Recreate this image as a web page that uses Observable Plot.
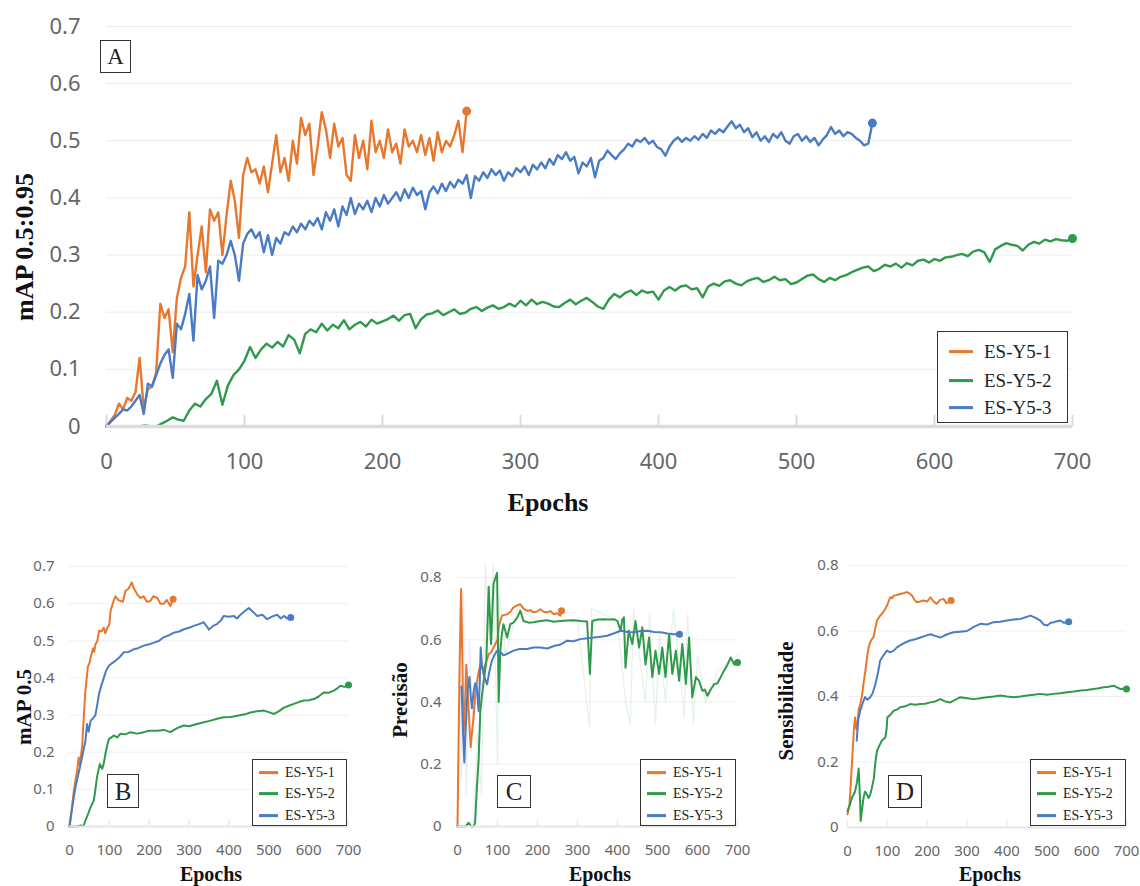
<!DOCTYPE html>
<html><head><meta charset="utf-8">
<script src="https://cdn.jsdelivr.net/npm/d3@7"></script>
<script src="https://cdn.jsdelivr.net/npm/@observablehq/plot@0.6"></script>
<style>
body{margin:0;background:#fff;}
#root{position:relative;width:1140px;height:886px;overflow:hidden;background:#fff;}
.chart{position:absolute;}
.chart svg{overflow:visible;}
.lab{position:absolute;font-family:"Liberation Serif","Times New Roman",serif;font-weight:bold;color:#111;white-space:nowrap;line-height:1;}
.ylab{transform:translate(-50%,-50%) rotate(-90deg);}
.xlab{transform:translate(-50%,-50%);}
.box{position:absolute;border:1.5px solid #333;background:#fff;box-sizing:border-box;font-family:"Liberation Serif","Times New Roman",serif;color:#222;}
.panel{display:flex;align-items:center;justify-content:center;line-height:1;}
.row{position:absolute;left:0;transform:translateY(-50%);white-space:nowrap;line-height:1;}
.sw{position:absolute;top:50%;transform:translateY(-50%);}
</style></head><body><div id="root"></div>
<script>
// ---------- shared ----------
const seriesNames = ["ES-Y5-1", "ES-Y5-2", "ES-Y5-3"];
const seriesColors = ["#E8772E", "#2F9A4B", "#4A7CC6"];
const epochTicks = [0, 100, 200, 300, 400, 500, 600, 700];
const yTicks07 = [0, 0.1, 0.2, 0.3, 0.4, 0.5, 0.6, 0.7];
const yTicks08 = [0, 0.2, 0.4, 0.6, 0.8];

// ---------- panel A: mAP 0.5:0.95 (values logged every N epochs) ----------
const stepA = [3, 4, 3];
const mapA_ES1 = [0.000,0.010,0.020,0.040,0.030,0.050,0.045,0.060,0.120,0.030,
  0.065,0.070,0.095,0.215,0.190,0.205,0.130,0.225,0.260,0.280,
  0.375,0.245,0.300,0.350,0.270,0.380,0.360,0.375,0.300,0.370,
  0.430,0.395,0.330,0.440,0.470,0.445,0.450,0.425,0.455,0.410,
  0.460,0.510,0.445,0.470,0.430,0.500,0.460,0.540,0.510,0.530,
  0.440,0.490,0.550,0.520,0.470,0.530,0.490,0.505,0.440,0.430,
  0.510,0.470,0.500,0.450,0.535,0.480,0.500,0.470,0.520,0.480,
  0.495,0.460,0.520,0.490,0.500,0.480,0.510,0.475,0.505,0.465,
  0.515,0.480,0.500,0.490,0.510,0.535,0.480,0.552];
const mapA_ES2 = [0,0,0,0,0,0,0,0.002,0.000,0.000,
  0.005,0.010,0.016,0.012,0.010,0.028,0.040,0.035,0.048,0.057,
  0.080,0.038,0.072,0.090,0.100,0.115,0.139,0.120,0.135,0.145,
  0.138,0.148,0.140,0.160,0.152,0.128,0.162,0.170,0.165,0.180,
  0.168,0.178,0.172,0.186,0.170,0.178,0.183,0.175,0.187,0.180,
  0.184,0.188,0.194,0.185,0.195,0.197,0.172,0.188,0.196,0.198,
  0.203,0.195,0.200,0.205,0.197,0.199,0.206,0.209,0.202,0.208,
  0.212,0.206,0.209,0.215,0.210,0.220,0.212,0.222,0.214,0.218,
  0.215,0.210,0.209,0.216,0.222,0.214,0.220,0.225,0.218,0.210,
  0.206,0.222,0.232,0.226,0.234,0.238,0.230,0.238,0.234,0.236,
  0.222,0.238,0.244,0.238,0.245,0.247,0.240,0.242,0.226,0.245,
  0.250,0.246,0.254,0.256,0.250,0.247,0.254,0.258,0.260,0.253,
  0.256,0.262,0.256,0.258,0.249,0.252,0.258,0.264,0.266,0.258,
  0.253,0.260,0.256,0.262,0.265,0.270,0.274,0.278,0.280,0.272,
  0.276,0.283,0.280,0.285,0.278,0.286,0.282,0.290,0.292,0.287,
  0.293,0.290,0.296,0.297,0.300,0.302,0.298,0.306,0.309,0.305,
  0.288,0.310,0.316,0.321,0.318,0.316,0.308,0.318,0.323,0.320,
  0.327,0.324,0.328,0.326,0.325,0.329];
const mapA_ES3 = [0.000,0.008,0.015,0.022,0.030,0.028,0.035,0.045,0.055,0.022,
  0.075,0.070,0.090,0.110,0.125,0.135,0.085,0.180,0.170,0.197,
  0.232,0.150,0.265,0.240,0.255,0.280,0.190,0.290,0.285,0.300,
  0.325,0.300,0.255,0.320,0.337,0.345,0.330,0.340,0.305,0.335,
  0.300,0.330,0.320,0.340,0.335,0.350,0.340,0.355,0.345,0.360,
  0.352,0.365,0.345,0.375,0.360,0.380,0.350,0.385,0.370,0.400,
  0.372,0.390,0.380,0.395,0.375,0.400,0.385,0.405,0.390,0.400,
  0.410,0.395,0.415,0.400,0.418,0.405,0.412,0.380,0.410,0.420,
  0.408,0.425,0.412,0.428,0.418,0.432,0.425,0.440,0.400,0.438,
  0.430,0.445,0.435,0.450,0.440,0.448,0.430,0.445,0.438,0.452,
  0.445,0.455,0.440,0.458,0.450,0.462,0.452,0.468,0.458,0.475,
  0.468,0.480,0.465,0.472,0.443,0.462,0.455,0.470,0.436,0.465,
  0.470,0.483,0.475,0.468,0.478,0.485,0.495,0.490,0.502,0.498,
  0.505,0.495,0.500,0.489,0.485,0.474,0.490,0.500,0.506,0.498,
  0.505,0.500,0.508,0.502,0.512,0.505,0.518,0.512,0.520,0.515,
  0.525,0.534,0.522,0.528,0.515,0.522,0.506,0.515,0.500,0.508,
  0.498,0.512,0.505,0.515,0.500,0.495,0.508,0.512,0.500,0.508,
  0.498,0.505,0.492,0.502,0.510,0.524,0.512,0.518,0.508,0.515,
  0.512,0.505,0.500,0.492,0.495,0.531];

// ---------- panel B: mAP 0.5  [epoch, value] ----------
const mapB_ES1 = [[0,0],[6,0.05],[11,0.097],[16,0.13],[19,0.15],[23,0.186],[26,0.165],[32,0.22],[36,0.30],[40,0.366],[46,0.43],[50,0.44],[53,0.455],[59,0.48],[62,0.47],[65,0.49],[70,0.50],[74,0.527],[80,0.525],[86,0.535],[90,0.52],[95,0.535],[100,0.545],[103,0.58],[110,0.605],[115,0.62],[122,0.61],[128,0.607],[134,0.605],[140,0.634],[148,0.64],[156,0.657],[162,0.64],[170,0.625],[178,0.615],[186,0.62],[194,0.605],[203,0.607],[210,0.62],[220,0.616],[228,0.60],[237,0.60],[244,0.61],[253,0.594],[260,0.612]];
const mapB_ES2 = [[0,0],[20,0],[28,0.003],[35,0],[40,0.016],[47,0.035],[53,0.052],[61,0.07],[65,0.10],[69,0.133],[76,0.168],[82,0.155],[86,0.17],[90,0.195],[95,0.22],[99,0.236],[105,0.24],[111,0.245],[120,0.24],[128,0.25],[140,0.248],[153,0.254],[170,0.25],[186,0.254],[200,0.258],[220,0.258],[237,0.26],[253,0.254],[270,0.265],[287,0.272],[300,0.27],[320,0.276],[335,0.28],[354,0.285],[370,0.29],[387,0.294],[405,0.295],[421,0.298],[440,0.302],[454,0.307],[470,0.31],[488,0.312],[500,0.308],[513,0.303],[525,0.31],[538,0.32],[550,0.325],[563,0.33],[575,0.335],[588,0.339],[600,0.34],[613,0.343],[625,0.35],[638,0.361],[650,0.36],[663,0.366],[672,0.372],[680,0.379],[690,0.376],[700,0.381]];
const mapB_ES3 = [[0,0],[7,0.052],[15,0.106],[22,0.14],[28,0.168],[34,0.20],[40,0.23],[44,0.276],[48,0.255],[53,0.285],[58,0.29],[65,0.30],[70,0.33],[74,0.357],[80,0.38],[86,0.40],[92,0.42],[99,0.433],[107,0.44],[115,0.446],[125,0.455],[136,0.469],[148,0.47],[161,0.477],[172,0.48],[186,0.487],[198,0.49],[212,0.495],[225,0.50],[237,0.51],[250,0.515],[262,0.522],[275,0.525],[287,0.531],[300,0.535],[312,0.54],[325,0.545],[337,0.55],[350,0.53],[360,0.54],[370,0.545],[380,0.555],[387,0.567],[400,0.565],[412,0.567],[420,0.56],[429,0.57],[440,0.58],[450,0.588],[460,0.578],[471,0.567],[484,0.57],[496,0.558],[508,0.565],[521,0.57],[530,0.56],[538,0.567],[546,0.56],[555,0.563]];

// ---------- panel C: Precisão ----------
const precC_ES1 = [[0,0],[5,0.5],[9,0.763],[12,0.55],[15,0.29],[19,0.40],[22,0.52],[25,0.45],[28,0.37],[31,0.30],[33,0.255],[36,0.30],[40,0.35],[44,0.42],[48,0.46],[52,0.49],[57,0.52],[61,0.51],[65,0.50],[72,0.53],[78,0.554],[84,0.56],[90,0.575],[96,0.59],[100,0.60],[103,0.64],[107,0.66],[111,0.677],[118,0.68],[124,0.682],[132,0.69],[140,0.704],[148,0.71],[157,0.714],[165,0.70],[174,0.693],[182,0.695],[190,0.688],[198,0.69],[207,0.698],[215,0.69],[224,0.688],[232,0.692],[241,0.682],[249,0.685],[257,0.677],[260,0.693]];
const precC_ES2 = [[0,0],[20,0],[28,0.012],[34,0],[40,0],[44,0.01],[48,0.115],[53,0.22],[57,0.37],[61,0.42],[65,0.46],[72,0.533],[78,0.77],[84,0.586],[90,0.78],[99,0.815],[103,0.40],[107,0.565],[111,0.62],[115,0.65],[124,0.607],[132,0.65],[140,0.655],[149,0.67],[157,0.693],[165,0.66],[178,0.655],[190,0.656],[207,0.66],[224,0.663],[240,0.658],[257,0.66],[274,0.662],[291,0.663],[308,0.66],[324,0.659],[331,0.49],[337,0.66],[350,0.665],[366,0.666],[380,0.665],[391,0.666],[400,0.66],[408,0.629],[412,0.665],[416,0.672],[420,0.51],[428,0.63],[437,0.586],[445,0.66],[454,0.575],[462,0.64],[470,0.52],[479,0.607],[487,0.48],[495,0.565],[504,0.49],[512,0.575],[520,0.48],[529,0.618],[537,0.49],[546,0.565],[554,0.468],[562,0.586],[571,0.458],[579,0.607],[587,0.415],[596,0.48],[604,0.468],[612,0.436],[618,0.44],[625,0.42],[633,0.44],[642,0.458],[650,0.46],[658,0.48],[666,0.50],[675,0.52],[683,0.543],[692,0.52],[700,0.527]];
const precC_ES3 = [[10,0.45],[14,0.30],[17,0.206],[21,0.33],[25,0.436],[30,0.48],[33,0.42],[36,0.38],[40,0.43],[44,0.46],[48,0.45],[53,0.37],[56,0.48],[58,0.575],[61,0.52],[65,0.49],[70,0.47],[74,0.457],[80,0.50],[86,0.533],[92,0.55],[99,0.565],[107,0.56],[115,0.55],[125,0.555],[140,0.565],[155,0.57],[174,0.57],[190,0.575],[207,0.575],[225,0.572],[241,0.58],[258,0.585],[274,0.597],[290,0.595],[307,0.602],[325,0.605],[341,0.607],[358,0.61],[374,0.613],[390,0.62],[408,0.629],[425,0.625],[441,0.624],[458,0.628],[475,0.629],[491,0.625],[508,0.624],[525,0.62],[541,0.618],[555,0.618]];
// faint raw (unsmoothed) precision traces
const precC_raw_ES2 = [[0,0],[40,0],[50,0.3],[60,0.1],[70,0.84],[80,0.6],[90,0.84],[100,0.2],[105,0.75],[120,0.55],[150,0.7],[200,0.66],[300,0.66],[330,0.32],[335,0.7],[400,0.66],[420,0.4],[432,0.33],[440,0.7],[470,0.4],[480,0.68],[495,0.33],[505,0.62],[520,0.4],[540,0.7],[567,0.35],[575,0.68],[590,0.33],[600,0.55],[620,0.4],[650,0.5],[700,0.55]];
const precC_raw_ES3 = [[5,0.7],[10,0.15],[15,0.75],[22,0.1],[30,0.6],[40,0.3],[50,0.5],[60,0.45],[80,0.55],[120,0.56]];

// ---------- panel D: Sensibilidade ----------
const recD_ES1 = [[0,0.04],[5,0.07],[9,0.15],[13,0.234],[16,0.30],[19,0.336],[22,0.30],[25,0.316],[28,0.36],[32,0.377],[36,0.40],[40,0.438],[45,0.48],[49,0.52],[53,0.55],[57,0.566],[61,0.575],[65,0.58],[70,0.61],[74,0.632],[78,0.64],[82,0.647],[88,0.655],[95,0.668],[100,0.68],[107,0.703],[112,0.70],[116,0.708],[124,0.71],[132,0.713],[140,0.715],[149,0.719],[155,0.715],[162,0.708],[168,0.695],[174,0.688],[182,0.69],[191,0.693],[200,0.69],[208,0.703],[216,0.69],[224,0.683],[232,0.695],[241,0.698],[248,0.685],[254,0.688],[260,0.693]];
const recD_ES2 = [[0,0.05],[6,0.07],[11,0.09],[15,0.10],[19,0.11],[24,0.14],[28,0.18],[31,0.10],[33,0.02],[37,0.06],[40,0.09],[44,0.11],[49,0.10],[53,0.09],[57,0.10],[61,0.12],[66,0.15],[70,0.20],[74,0.234],[80,0.25],[86,0.265],[90,0.27],[95,0.275],[98,0.30],[100,0.336],[108,0.345],[116,0.357],[124,0.36],[132,0.367],[145,0.37],[157,0.377],[170,0.375],[183,0.377],[195,0.378],[208,0.382],[220,0.385],[233,0.392],[245,0.385],[258,0.382],[270,0.39],[283,0.398],[300,0.395],[317,0.392],[333,0.395],[350,0.398],[367,0.40],[384,0.403],[400,0.40],[417,0.398],[434,0.40],[451,0.403],[467,0.405],[484,0.408],[500,0.405],[518,0.408],[534,0.41],[551,0.413],[568,0.415],[585,0.418],[600,0.42],[618,0.423],[630,0.425],[643,0.428],[655,0.43],[668,0.433],[676,0.428],[685,0.423],[692,0.424],[700,0.423]];
const recD_ES3 = [[23,0.265],[27,0.33],[32,0.357],[38,0.38],[44,0.398],[50,0.39],[57,0.398],[63,0.41],[70,0.438],[76,0.47],[82,0.51],[90,0.525],[99,0.54],[107,0.535],[116,0.54],[124,0.55],[132,0.556],[145,0.565],[157,0.571],[170,0.575],[183,0.58],[195,0.585],[208,0.59],[220,0.585],[233,0.58],[250,0.59],[266,0.596],[283,0.598],[300,0.60],[316,0.612],[333,0.622],[350,0.62],[367,0.627],[383,0.628],[400,0.632],[417,0.635],[434,0.637],[447,0.642],[459,0.647],[472,0.64],[484,0.632],[492,0.62],[501,0.617],[510,0.625],[518,0.627],[526,0.63],[534,0.632],[543,0.625],[551,0.627],[555,0.628]];

// ---------- helpers ----------
const root = document.getElementById("root");
function fromStep(values, step, name) {
  return values.map((v, i) => ({epoch: i * step, value: v, series: name}));
}
function fromPairs(pairs, name) {
  return pairs.map(([e, v]) => ({epoch: e, value: v, series: name}));
}
function lastOf(rows) {
  return seriesNames.map(s => { const r = rows.filter(d => d.series === s); return r[r.length - 1]; }).filter(Boolean);
}

function makeChart(o) {
  const marks = [
    Plot.gridY(o.yTicks, {stroke: o.grid, strokeOpacity: 1, strokeWidth: 1}),
    Plot.axisY(o.yTicks, {tickSize: 0, tickPadding: o.yPad, fontSize: o.font, fill: "#666", tickFormat: d => String(d), label: null}),
    Plot.axisX(epochTicks, {tickSize: 0, tickPadding: o.xPad, fontSize: o.font, fill: "#666", tickFormat: d => String(d), label: null}),
    Plot.ruleX(epochTicks, {x: d => d, y1: 0, y2: o.tickLen, stroke: o.tick, strokeWidth: o.tickW})
  ];
  if (o.ghost) marks.push(Plot.line(o.ghost, {x: "epoch", y: "value", z: "series", stroke: "series", strokeWidth: 1.2, strokeOpacity: 0.13}));
  marks.push(
    Plot.line(o.rows, {x: "epoch", y: "value", z: "series", stroke: "series", strokeWidth: o.lw, strokeLinejoin: "round", strokeLinecap: "round"}),
    Plot.ruleY([0], {stroke: o.base, strokeWidth: o.baseW}),
    Plot.dot(lastOf(o.rows), {x: "epoch", y: "value", fill: "series", r: o.r})
  );
  const svg = Plot.plot({
    width: o.w, height: o.h,
    marginLeft: o.ml, marginRight: o.mr, marginTop: o.mt, marginBottom: o.mb,
    x: {domain: [0, 700]},
    y: {domain: o.yDomain},
    color: {domain: seriesNames, range: seriesColors},
    style: {background: "transparent", fontFamily: '"Noto Sans", "Open Sans", sans-serif', overflow: "visible"},
    marks
  });
  const div = document.createElement("div");
  div.className = "chart";
  div.style.left = o.left + "px"; div.style.top = o.top + "px";
  div.appendChild(svg);
  root.appendChild(div);
}
function addLabel(text, x, y, size, rotate) {
  const d = document.createElement("div");
  d.className = "lab " + (rotate ? "ylab" : "xlab");
  d.style.left = x + "px"; d.style.top = y + "px"; d.style.fontSize = size + "px";
  d.textContent = text;
  root.appendChild(d);
}
function addPanelTag(text, x, y, w, h, size) {
  const d = document.createElement("div");
  d.className = "box panel";
  Object.assign(d.style, {left: x + "px", top: y + "px", width: w + "px", height: h + "px", fontSize: size + "px"});
  d.textContent = text;
  root.appendChild(d);
}
function addLegend(x, y, w, h, rows, swL, swW, swH, txtL, size) {
  const d = document.createElement("div");
  d.className = "box";
  Object.assign(d.style, {left: x + "px", top: y + "px", width: w + "px", height: h + "px"});
  seriesNames.forEach((s, i) => {
    const r = document.createElement("div");
    r.className = "row";
    r.style.top = rows[i] + "px"; r.style.width = "100%"; r.style.height = (size * 1.2) + "px";
    const sw = document.createElement("span");
    sw.className = "sw";
    Object.assign(sw.style, {left: swL + "px", width: swW + "px", height: swH + "px", background: seriesColors[i]});
    const t = document.createElement("span");
    Object.assign(t.style, {position: "absolute", left: txtL + "px", top: "50%", transform: "translateY(-50%)", fontSize: size + "px"});
    t.textContent = s;
    r.appendChild(sw); r.appendChild(t);
    d.appendChild(r);
  });
  root.appendChild(d);
}

// ---------- panel A ----------
const rowsA = [
  ...fromStep(mapA_ES1, stepA[0], seriesNames[0]),
  ...fromStep(mapA_ES2, stepA[1], seriesNames[1]),
  ...fromStep(mapA_ES3, stepA[2], seriesNames[2])
];
makeChart({rows: rowsA, yTicks: yTicks07, yDomain: [0, 0.7], w: 1140, h: 530, ml: 106, mr: 68, mt: 26, mb: 104,
  left: 0, top: 0, font: 22, yPad: 26, xPad: 27, grid: "#ebebeb", tick: "#dcdcdc", tickW: 2, tickLen: 0.02,
  base: "#dcdcdc", baseW: 3.5, lw: 2.4, r: 4.5});
addLabel("mAP 0.5:0.95", 25, 247, 26, true);
addLabel("Epochs", 548, 503, 26, false);
addPanelTag("A", 100, 40, 31, 33, 23);
addLegend(937, 331, 131, 92, [20, 49, 76], 11, 24, 3, 46, 19);

// ---------- panel B ----------
const rowsB = [...fromPairs(mapB_ES1, seriesNames[0]), ...fromPairs(mapB_ES2, seriesNames[1]), ...fromPairs(mapB_ES3, seriesNames[2])];
makeChart({rows: rowsB, yTicks: yTicks07, yDomain: [0, 0.7], w: 380, h: 336, ml: 69, mr: 32, mt: 16, mb: 60,
  left: 0, top: 550, font: 15, yPad: 15, xPad: 18, grid: "#f0f0f0", tick: "#ececec", tickW: 1.5, tickLen: 0.02,
  base: "#e6e6e6", baseW: 2, lw: 2, r: 3.5});
addLabel("mAP 0.5", 24, 707, 21, true);
addLabel("Epochs", 211, 874, 20, false);
addPanelTag("B", 107, 774, 32, 34, 25);
addLegend(252, 759, 95, 67, [13, 34, 56], 6, 19, 3, 32, 14);

// ---------- panel C ----------
const rowsC = [...fromPairs(precC_ES1, seriesNames[0]), ...fromPairs(precC_ES2, seriesNames[1]), ...fromPairs(precC_ES3, seriesNames[2])];
const ghostC = [...fromPairs(precC_raw_ES2, seriesNames[1]), ...fromPairs(precC_raw_ES3, seriesNames[2])];
makeChart({rows: rowsC, ghost: ghostC, yTicks: yTicks08, yDomain: [0, 0.8], w: 380, h: 336, ml: 77, mr: 23, mt: 27, mb: 60,
  left: 380, top: 550, font: 15, yPad: 16, xPad: 18, grid: "#f0f0f0", tick: "#ececec", tickW: 1.5, tickLen: 0.023,
  base: "#e6e6e6", baseW: 2, lw: 2, r: 3.5});
addLabel("Precisão", 400, 700, 21, true);
addLabel("Epochs", 600, 874, 20, false);
addPanelTag("C", 497, 775, 34, 33, 25);
addLegend(640, 759, 96, 67, [13, 34, 56], 6, 19, 3, 32, 14);

// ---------- panel D ----------
const rowsD = [...fromPairs(recD_ES1, seriesNames[0]), ...fromPairs(recD_ES2, seriesNames[1]), ...fromPairs(recD_ES3, seriesNames[2])];
makeChart({rows: rowsD, yTicks: yTicks08, yDomain: [0, 0.8], w: 380, h: 336, ml: 87, mr: 14, mt: 15, mb: 59,
  left: 760, top: 550, font: 15, yPad: 9, xPad: 18, grid: "#f0f0f0", tick: "#ececec", tickW: 1.5, tickLen: 0.023,
  base: "#e6e6e6", baseW: 2, lw: 2, r: 3.5});
addLabel("Sensibilidade", 786, 701, 21, true);
addLabel("Epochs", 990, 874, 20, false);
addPanelTag("D", 888, 775, 34, 33, 25);
addLegend(1030, 759, 96, 67, [13, 34, 56], 6, 19, 3, 32, 14);
</script></body></html>
